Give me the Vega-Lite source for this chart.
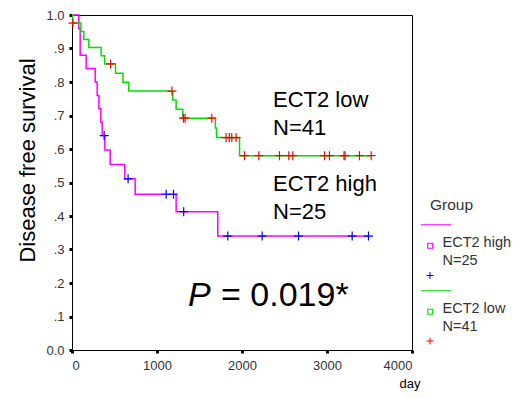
{
  "$schema": "https://vega.github.io/schema/vega-lite/v6.json",
  "width": 340,
  "height": 335,
  "autosize": {"type": "none"},
  "padding": {"left": 72, "top": 15, "right": 108, "bottom": 48},
  "background": "white",
  "config": {
    "font": "Liberation Sans",
    "view": {"stroke": "#000", "strokeWidth": 1},
    "axis": {
      "grid": false,
      "domainColor": "#000",
      "domainWidth": 1,
      "tickColor": "#000",
      "tickSize": 3,
      "tickWidth": 3,
      "labelFontSize": 13,
      "labelColor": "#333",
      "labelOverlap": false,
      "titleColor": "#000",
      "titleFontWeight": "normal"
    }
  },
  "datasets": {
    "curves": [
      {"group": "ECT2 high", "day": 0, "survival": 1.0},
      {"group": "ECT2 high", "day": 80, "survival": 0.96},
      {"group": "ECT2 high", "day": 96, "survival": 0.88},
      {"group": "ECT2 high", "day": 167, "survival": 0.84},
      {"group": "ECT2 high", "day": 273, "survival": 0.80},
      {"group": "ECT2 high", "day": 296, "survival": 0.76},
      {"group": "ECT2 high", "day": 316, "survival": 0.72},
      {"group": "ECT2 high", "day": 339, "survival": 0.68},
      {"group": "ECT2 high", "day": 355, "survival": 0.64},
      {"group": "ECT2 high", "day": 386, "survival": 0.597},
      {"group": "ECT2 high", "day": 449, "survival": 0.554},
      {"group": "ECT2 high", "day": 621, "survival": 0.511},
      {"group": "ECT2 high", "day": 743, "survival": 0.465},
      {"group": "ECT2 high", "day": 1225, "survival": 0.413},
      {"group": "ECT2 high", "day": 1715, "survival": 0.34},
      {"group": "ECT2 high", "day": 3488, "survival": 0.34},
      {"group": "ECT2 low", "day": 0, "survival": 1.0},
      {"group": "ECT2 low", "day": 8, "survival": 0.976},
      {"group": "ECT2 low", "day": 105, "survival": 0.951},
      {"group": "ECT2 low", "day": 139, "survival": 0.927},
      {"group": "ECT2 low", "day": 198, "survival": 0.903},
      {"group": "ECT2 low", "day": 343, "survival": 0.878},
      {"group": "ECT2 low", "day": 384, "survival": 0.854},
      {"group": "ECT2 low", "day": 512, "survival": 0.826},
      {"group": "ECT2 low", "day": 600, "survival": 0.799},
      {"group": "ECT2 low", "day": 668, "survival": 0.773},
      {"group": "ECT2 low", "day": 1186, "survival": 0.746},
      {"group": "ECT2 low", "day": 1225, "survival": 0.719},
      {"group": "ECT2 low", "day": 1304, "survival": 0.692},
      {"group": "ECT2 low", "day": 1687, "survival": 0.663},
      {"group": "ECT2 low", "day": 1700, "survival": 0.634},
      {"group": "ECT2 low", "day": 1971, "survival": 0.58},
      {"group": "ECT2 low", "day": 3520, "survival": 0.58}
    ],
    "censored": [
      {"arm": "high", "day": 378, "survival": 0.64},
      {"arm": "high", "day": 660, "survival": 0.511},
      {"arm": "high", "day": 1108, "survival": 0.465},
      {"arm": "high", "day": 1194, "survival": 0.465},
      {"arm": "high", "day": 1314, "survival": 0.413},
      {"arm": "high", "day": 1833, "survival": 0.34},
      {"arm": "high", "day": 2237, "survival": 0.34},
      {"arm": "high", "day": 2665, "survival": 0.34},
      {"arm": "high", "day": 3296, "survival": 0.34},
      {"arm": "high", "day": 3488, "survival": 0.34},
      {"arm": "low", "day": 10, "survival": 0.976},
      {"arm": "low", "day": 455, "survival": 0.854},
      {"arm": "low", "day": 1176, "survival": 0.773},
      {"arm": "low", "day": 1312, "survival": 0.692},
      {"arm": "low", "day": 1330, "survival": 0.692},
      {"arm": "low", "day": 1645, "survival": 0.692},
      {"arm": "low", "day": 1812, "survival": 0.634},
      {"arm": "low", "day": 1850, "survival": 0.634},
      {"arm": "low", "day": 1880, "survival": 0.634},
      {"arm": "low", "day": 1930, "survival": 0.634},
      {"arm": "low", "day": 2029, "survival": 0.58},
      {"arm": "low", "day": 2198, "survival": 0.58},
      {"arm": "low", "day": 2441, "survival": 0.58},
      {"arm": "low", "day": 2551, "survival": 0.58},
      {"arm": "low", "day": 2598, "survival": 0.58},
      {"arm": "low", "day": 2971, "survival": 0.58},
      {"arm": "low", "day": 3029, "survival": 0.58},
      {"arm": "low", "day": 3200, "survival": 0.58},
      {"arm": "low", "day": 3212, "survival": 0.58},
      {"arm": "low", "day": 3382, "survival": 0.58},
      {"arm": "low", "day": 3520, "survival": 0.58}
    ]
  },
  "layer": [
    {
      "data": {"name": "curves"},
      "mark": {"type": "line", "interpolate": "step-after", "strokeWidth": 1.5},
      "encoding": {
        "x": {
          "field": "day", "type": "quantitative",
          "scale": {"domain": [0, 4000], "nice": false},
          "axis": {
            "values": [0, 1000, 2000, 3000, 4000],
            "tickCount": 5,
            "format": "d",
            "labelPadding": 6,
            "title": "day",
            "titleFontSize": 13,
            "titleAnchor": "end",
            "titleAlign": "right",
            "titleBaseline": "middle",
            "titleX": 348,
            "titleY": 33
          }
        },
        "y": {
          "field": "survival", "type": "quantitative",
          "scale": {"domain": [0, 1], "nice": false, "zero": true},
          "axis": {
            "values": [0, 0.1, 0.2, 0.3, 0.4, 0.5, 0.6, 0.7, 0.8, 0.9, 1.0],
            "tickCount": 11,
            "labelExpr": "datum.value < 0.05 ? '0.0' : datum.value > 0.95 ? '1.0' : '.' + format(datum.value * 10, '.0f')",
            "labelOverlap": false,
            "labelPadding": 5,
            "title": "Disease free survival",
            "titleFontSize": 22,
            "titleAngle": -90,
            "titleAlign": "center",
            "titleBaseline": "middle",
            "titleX": -45,
            "titleY": 145
          }
        },
        "color": {
          "field": "group", "type": "nominal",
          "scale": {"domain": ["ECT2 high", "ECT2 low"], "range": ["#ff00ff", "#00e000"]},
          "legend": {
            "title": "Group",
            "orient": "none",
            "legendX": 351,
            "legendY": 183,
            "padding": 0,
            "titleFontSize": 15.5,
            "titleFontWeight": "normal",
            "titleColor": "#333",
            "titlePadding": 22,
            "symbolType": "M-9.5,-18H21M-2.5,0.5H2.5V5.5H-2.5Z",
            "symbolSize": 4,
            "symbolStrokeWidth": 1.2,
            "labelFontSize": 14.5,
            "labelColor": "#333",
            "labelOffset": 5,
            "rowPadding": 20,
            "labelExpr": "datum.label == 'ECT2 high' ? ['ECT2 high', 'N=25'] : ['ECT2 low', 'N=41']",
            "encode": {
              "labels": {"update": {"lineHeight": {"value": 18}}},
              "title": {"update": {"dx": {"value": 7}}}
            }
          }
        }
      }
    },
    {
      "data": {"name": "censored"},
      "mark": {"type": "point", "shape": "M-1,0H1M0,-1V1", "filled": false, "size": 81, "strokeWidth": 1.2, "opacity": 1},
      "encoding": {
        "x": {
          "field": "day", "type": "quantitative",
          "scale": {"domain": [0, 4000], "nice": false},
          "axis": {
            "values": [0, 1000, 2000, 3000, 4000],
            "tickCount": 5,
            "format": "d",
            "labelPadding": 6,
            "title": "day",
            "titleFontSize": 13,
            "titleAnchor": "end",
            "titleAlign": "right",
            "titleBaseline": "middle",
            "titleX": 348,
            "titleY": 33
          }
        },
        "y": {
          "field": "survival", "type": "quantitative",
          "scale": {"domain": [0, 1], "nice": false, "zero": true},
          "axis": {
            "values": [0, 0.1, 0.2, 0.3, 0.4, 0.5, 0.6, 0.7, 0.8, 0.9, 1.0],
            "tickCount": 11,
            "labelExpr": "datum.value < 0.05 ? '0.0' : datum.value > 0.95 ? '1.0' : '.' + format(datum.value * 10, '.0f')",
            "labelOverlap": false,
            "labelPadding": 5,
            "title": "Disease free survival",
            "titleFontSize": 22,
            "titleAngle": -90,
            "titleAlign": "center",
            "titleBaseline": "middle",
            "titleX": -45,
            "titleY": 145
          }
        },
        "stroke": {
          "field": "arm", "type": "nominal",
          "scale": {"domain": ["high", "low"], "range": ["#0000ff", "#ff0000"]},
          "legend": {
            "title": null,
            "orient": "none",
            "legendX": 353,
            "legendY": 255.5,
            "padding": 0,
            "symbolType": "M-1,0H1M0,-1V1",
            "symbolSize": 49,
            "symbolStrokeWidth": 1,
            "labelExpr": "''",
            "rowPadding": 53.5
          }
        }
      }
    },
    {
      "data": {"values": [{}]},
      "mark": {"type": "text", "text": ["ECT2 low", "N=41"], "fontSize": 22, "align": "left", "baseline": "alphabetic", "lineHeight": 28, "color": "#000"},
      "encoding": {"x": {"datum": 2365}, "y": {"datum": 0.725}}
    },
    {
      "data": {"values": [{}]},
      "mark": {"type": "text", "text": ["ECT2 high", "N=25"], "fontSize": 22, "align": "left", "baseline": "alphabetic", "lineHeight": 28, "color": "#000"},
      "encoding": {"x": {"datum": 2365}, "y": {"datum": 0.475}}
    },
    {
      "data": {"values": [{}]},
      "mark": {"type": "text", "text": "P", "fontSize": 34, "fontStyle": "italic", "align": "left", "baseline": "alphabetic", "color": "#000"},
      "encoding": {"x": {"datum": 1365}, "y": {"datum": 0.131}}
    },
    {
      "data": {"values": [{}]},
      "mark": {"type": "text", "text": "= 0.019*", "fontSize": 34, "align": "left", "baseline": "alphabetic", "color": "#000"},
      "encoding": {"x": {"datum": 1753}, "y": {"datum": 0.131}}
    }
  ]
}
